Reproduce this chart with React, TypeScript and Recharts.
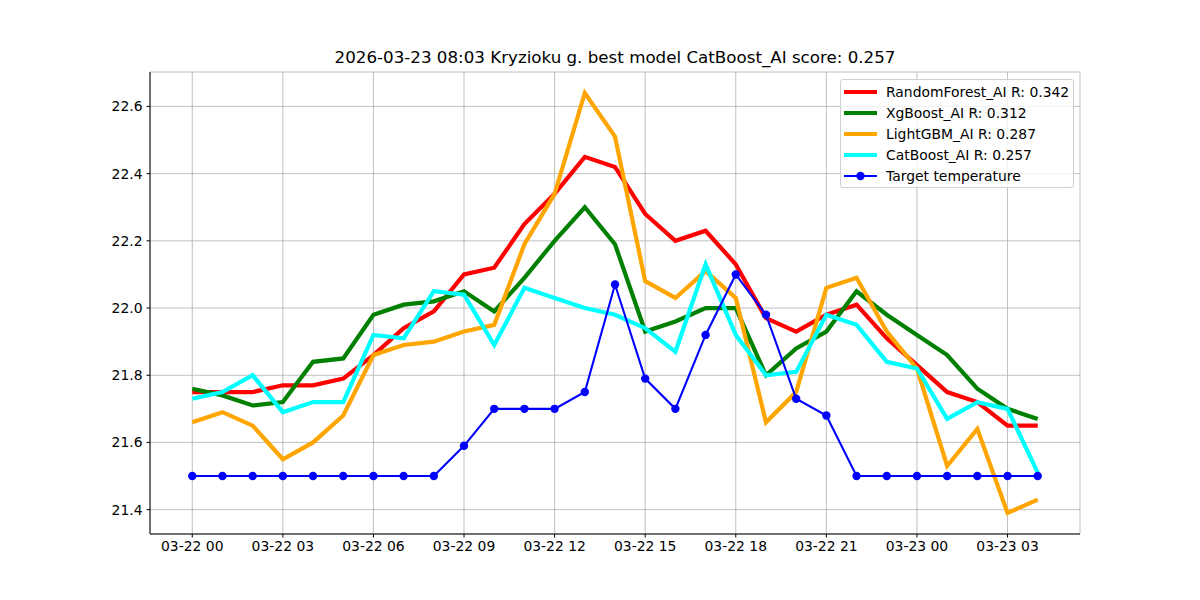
import { LineChart, Line, XAxis, YAxis, CartesianGrid, Legend } from 'recharts';

const hours = [0, 1, 2, 3, 4, 5, 6, 7, 8, 9, 10, 11, 12, 13, 14, 15, 16, 17, 18, 19, 20, 21, 22, 23, 24, 25, 26, 27, 28];

const randomForest = [21.75, 21.75, 21.75, 21.77, 21.77, 21.79, 21.86, 21.94, 21.99, 22.10, 22.12, 22.25, 22.34, 22.45, 22.42, 22.28, 22.20, 22.23, 22.13, 21.97, 21.93, 21.98, 22.01, 21.91, 21.83, 21.75, 21.72, 21.65, 21.65];
const xgBoost = [21.76, 21.74, 21.71, 21.72, 21.84, 21.85, 21.98, 22.01, 22.02, 22.05, 21.99, 22.09, 22.20, 22.30, 22.19, 21.93, 21.96, 22.00, 22.00, 21.80, 21.88, 21.93, 22.05, 21.98, 21.92, 21.86, 21.76, 21.70, 21.67];
const lightGbm = [21.66, 21.69, 21.65, 21.55, 21.60, 21.68, 21.86, 21.89, 21.90, 21.93, 21.95, 22.19, 22.34, 22.64, 22.51, 22.08, 22.03, 22.11, 22.03, 21.66, 21.75, 22.06, 22.09, 21.93, 21.82, 21.53, 21.64, 21.39, 21.43];
const catBoost = [21.73, 21.75, 21.80, 21.69, 21.72, 21.72, 21.92, 21.91, 22.05, 22.04, 21.89, 22.06, 22.03, 22.00, 21.98, 21.94, 21.87, 22.13, 21.92, 21.80, 21.81, 21.98, 21.95, 21.84, 21.82, 21.67, 21.72, 21.70, 21.51];
const target = [21.5, 21.5, 21.5, 21.5, 21.5, 21.5, 21.5, 21.5, 21.5, 21.59, 21.70, 21.70, 21.70, 21.75, 22.07, 21.79, 21.70, 21.92, 22.10, 21.98, 21.73, 21.68, 21.5, 21.5, 21.5, 21.5, 21.5, 21.5, 21.5];

const xTicks = [0, 3, 6, 9, 12, 15, 18, 21, 24, 27];
const xTickLabels = ['03-22 00', '03-22 03', '03-22 06', '03-22 09', '03-22 12', '03-22 15', '03-22 18', '03-22 21', '03-23 00', '03-23 03'];
const yTicks = [21.4, 21.6, 21.8, 22.0, 22.2, 22.4, 22.6];

const series = [
  { key: 'rf', name: 'RandomForest_AI R: 0.342', color: '#ff0000', values: randomForest },
  { key: 'xg', name: 'XgBoost_AI R: 0.312', color: '#008000', values: xgBoost },
  { key: 'lg', name: 'LightGBM_AI R: 0.287', color: '#ffa500', values: lightGbm },
  { key: 'cb', name: 'CatBoost_AI R: 0.257', color: '#00ffff', values: catBoost },
];

const FONT = '"DejaVu Sans", sans-serif';

const data = hours.map((h, i) => ({
  h,
  rf: randomForest[i],
  xg: xgBoost[i],
  lg: lightGbm[i],
  cb: catBoost[i],
  target: target[i],
}));

function LegendBox() {
  return (
    <div
      style={{
        position: 'absolute',
        left: 840,
        top: 79,
        width: 234,
        height: 109,
        boxSizing: 'border-box',
        border: '1px solid #d0d0d0',
        borderRadius: 3,
        background: 'rgba(255,255,255,0.8)',
        fontFamily: FONT,
        fontSize: 13.9,
        color: '#000',
        padding: '2px 0 0 3px',
        whiteSpace: 'nowrap',
      }}
    >
      {series.map((s) => (
        <div key={s.key} style={{ display: 'flex', alignItems: 'center', height: 20.8 }}>
          <svg width={33} height={10} style={{ marginRight: 9, flexShrink: 0 }}>
            <line x1={0} y1={5} x2={33} y2={5} stroke={s.color} strokeWidth={4.2} />
          </svg>
          <span>{s.name}</span>
        </div>
      ))}
      <div style={{ display: 'flex', alignItems: 'center', height: 20.8 }}>
        <svg width={33} height={10} style={{ marginRight: 9, flexShrink: 0 }}>
          <line x1={0} y1={5} x2={33} y2={5} stroke="#0000ff" strokeWidth={2.1} />
          <circle cx={16.5} cy={5} r={4.2} fill="#0000ff" />
        </svg>
        <span>Target temperature</span>
      </div>
    </div>
  );
}

export default function App() {
  return (
    <div style={{ position: 'absolute', left: 0, top: 0, width: 1200, height: 600, background: '#fff' }}>
      <div
        style={{
          position: 'absolute',
          left: 150,
          width: 930,
          top: 47,
          textAlign: 'center',
          fontFamily: FONT,
          fontSize: 16.7,
          color: '#000',
        }}
      >
        2026-03-23 08:03 Kryzioku g. best model CatBoost_AI score: 0.257
      </div>
      <LineChart
        width={1200}
        height={600}
        data={data}
        margin={{ top: 72, right: 120, bottom: 0, left: 0 }}
      >
        <CartesianGrid stroke="#b0b0b0" strokeWidth={0.8} />
        <XAxis
          dataKey="h"
          type="number"
          domain={[-1.4, 29.4]}
          ticks={xTicks}
          tickFormatter={(v) => xTickLabels[xTicks.indexOf(v)] ?? ''}
          height={66}
          tickSize={3.5}
          tickMargin={4}
          allowDataOverflow
          interval={0}
          stroke="#000"
          tick={{ fill: '#000', fontSize: 13.9, fontFamily: FONT }}
        />
        <XAxis
          xAxisId="top"
          orientation="top"
          dataKey="h"
          type="number"
          domain={[-1.4, 29.4]}
          height={0}
          tick={false}
          tickLine={false}
          stroke="#000"
        />
        <YAxis
          type="number"
          domain={[21.3275, 22.7025]}
          ticks={yTicks}
          tickFormatter={(v) => v.toFixed(1)}
          width={150}
          tickSize={3.5}
          tickMargin={4}
          allowDataOverflow
          interval={0}
          stroke="#000"
          tick={{ fill: '#000', fontSize: 13.9, fontFamily: FONT }}
        />
        <YAxis
          yAxisId="right"
          orientation="right"
          type="number"
          domain={[21.3275, 22.7025]}
          width={0}
          tick={false}
          tickLine={false}
          stroke="#000"
        />
        {series.map((s) => (
          <Line
            key={s.key}
            type="linear"
            dataKey={s.key}
            name={s.name}
            stroke={s.color}
            strokeWidth={4.2}
            dot={false}
            activeDot={false}
            isAnimationActive={false}
          />
        ))}
        <Line
          type="linear"
          dataKey="target"
          name="Target temperature"
          stroke="#0000ff"
          strokeWidth={2.1}
          dot={{ r: 4.2, fill: '#0000ff', stroke: '#0000ff', strokeWidth: 0 }}
          activeDot={false}
          isAnimationActive={false}
        />
        <Legend content={() => null} />
      </LineChart>
      <LegendBox />
    </div>
  );
}
